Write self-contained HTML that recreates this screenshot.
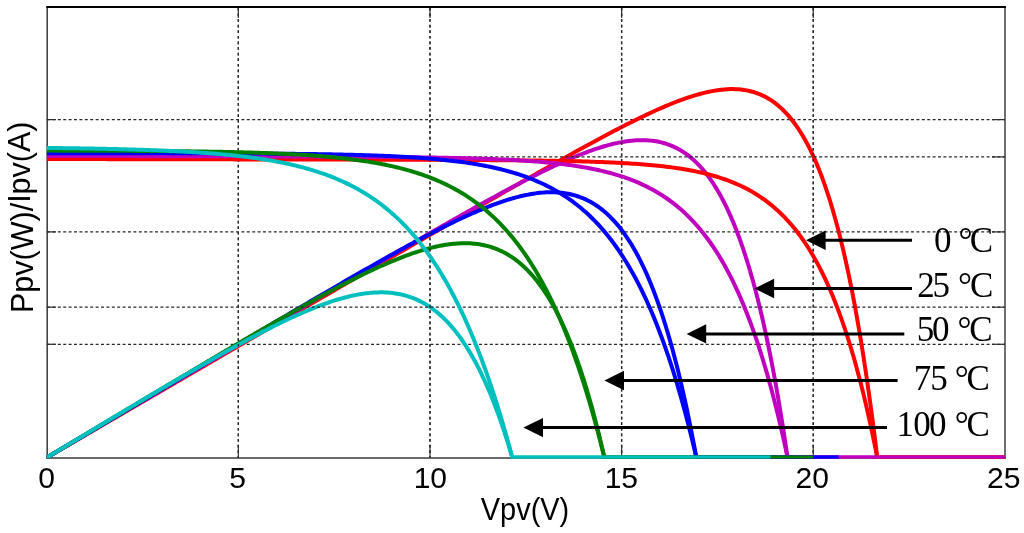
<!DOCTYPE html>
<html><head><meta charset="utf-8"><style>
html,body{margin:0;padding:0;background:#fff;overflow:hidden;}
svg{display:block;}
.sans{font-family:"Liberation Sans",Arial,sans-serif;font-size:30px;fill:#000;}
.serif{font-family:"Liberation Serif","Times New Roman",serif;font-size:35px;fill:#000;}
</style></head><body>
<svg width="1024" height="533" viewBox="0 0 1024 533">
<defs><clipPath id="ax"><rect x="46.6" y="7.0" width="958.8" height="451.5"/></clipPath></defs>
<rect width="1024" height="533" fill="#fff"/>
<g fill="none">
<line x1="47.2" y1="7.0" x2="47.2" y2="458.8" stroke="#444" stroke-width="1.6"/>
<line x1="1005" y1="7.0" x2="1005" y2="458.8" stroke="#707070" stroke-width="2"/>
<line x1="46.4" y1="458" x2="1006" y2="458" stroke="#3a3a3a" stroke-width="1.6"/>
</g>
<g stroke="#333" stroke-width="1.2" fill="none">
<line x1="238.34" y1="457.6" x2="238.34" y2="445.0"/>
<line x1="238.34" y1="7.0" x2="238.34" y2="18.0"/>
<line x1="429.98" y1="457.6" x2="429.98" y2="445.0"/>
<line x1="429.98" y1="7.0" x2="429.98" y2="18.0"/>
<line x1="621.62" y1="457.6" x2="621.62" y2="445.0"/>
<line x1="621.62" y1="7.0" x2="621.62" y2="18.0"/>
<line x1="813.26" y1="457.6" x2="813.26" y2="445.0"/>
<line x1="813.26" y1="7.0" x2="813.26" y2="18.0"/>
<line x1="46.7" y1="119.6" x2="56.0" y2="119.6"/>
<line x1="1004.9" y1="119.6" x2="991.9" y2="119.6"/>
<line x1="46.7" y1="231.9" x2="56.0" y2="231.9"/>
<line x1="1004.9" y1="231.9" x2="991.9" y2="231.9"/>
<line x1="46.7" y1="344.3" x2="56.0" y2="344.3"/>
<line x1="1004.9" y1="344.3" x2="991.9" y2="344.3"/>
<line x1="46.7" y1="156.9" x2="56.0" y2="156.9"/>
<line x1="1004.9" y1="156.9" x2="991.9" y2="156.9"/>
<line x1="46.7" y1="307.2" x2="56.0" y2="307.2"/>
<line x1="1004.9" y1="307.2" x2="991.9" y2="307.2"/>
</g>
<g stroke="#2a2a2a" stroke-width="1.3" fill="none">
<line x1="238.34" y1="7.9" x2="238.34" y2="457.6" stroke-dasharray="2.7 2.9"/>
<line x1="429.98" y1="7.9" x2="429.98" y2="457.6" stroke-dasharray="2.7 2.9"/>
<line x1="621.62" y1="7.9" x2="621.62" y2="457.6" stroke-dasharray="2.7 2.9"/>
<line x1="813.26" y1="7.9" x2="813.26" y2="457.6" stroke-dasharray="2.7 2.9"/>
<line x1="47.0" y1="119.6" x2="1004.9" y2="119.6" stroke-dasharray="3 2.4"/>
<line x1="47.0" y1="231.9" x2="1004.9" y2="231.9" stroke-dasharray="3 2.4"/>
<line x1="47.0" y1="344.3" x2="1004.9" y2="344.3" stroke-dasharray="3 2.4"/>
</g>
<g fill="none" stroke-width="4" stroke-linejoin="round" clip-path="url(#ax)">
<polyline points="46.70,457.60 49.48,455.98 52.26,454.36 55.03,452.74 57.81,451.13 60.59,449.51 63.37,447.89 66.14,446.27 68.92,444.65 71.70,443.03 74.48,441.42 77.26,439.80 80.03,438.18 82.81,436.56 85.59,434.94 88.37,433.33 91.15,431.71 93.92,430.09 96.70,428.47 99.48,426.86 102.26,425.24 105.03,423.62 107.81,422.00 110.59,420.39 113.37,418.77 116.15,417.15 118.92,415.53 121.70,413.92 124.48,412.30 127.26,410.68 130.03,409.07 132.81,407.45 135.59,405.83 138.37,404.21 141.15,402.60 143.92,400.98 146.70,399.36 149.48,397.75 152.26,396.13 155.03,394.52 157.81,392.90 160.59,391.28 163.37,389.67 166.15,388.05 168.92,386.43 171.70,384.82 174.48,383.20 177.26,381.59 180.04,379.97 182.81,378.35 185.59,376.74 188.37,375.12 191.15,373.51 193.92,371.89 196.70,370.28 199.48,368.66 202.26,367.04 205.04,365.43 207.81,363.81 210.59,362.20 213.37,360.58 216.15,358.97 218.92,357.35 221.70,355.74 224.48,354.12 227.26,352.51 230.04,350.89 232.81,349.28 235.59,347.66 238.37,346.05 241.15,344.44 243.93,342.82 246.70,341.21 249.48,339.59 252.26,337.98 255.04,336.36 257.81,334.75 260.59,333.13 263.37,331.52 266.15,329.91 268.93,328.29 271.70,326.68 274.48,325.07 277.26,323.45 280.04,321.84 282.81,320.22 285.59,318.61 288.37,317.00 291.15,315.38 293.93,313.77 296.70,312.16 299.48,310.54 302.26,308.93 305.04,307.32 307.81,305.71 310.59,304.09 313.37,302.48 316.15,300.87 318.93,299.25 321.70,297.64 324.48,296.03 327.26,294.42 330.04,292.80 332.82,291.19 335.59,289.58 338.37,287.97 341.15,286.36 343.93,284.74 346.70,283.13 349.48,281.52 352.26,279.91 355.04,278.30 357.82,276.69 360.59,275.07 363.37,273.46 366.15,271.85 368.93,270.24 371.70,268.63 374.48,267.02 377.26,265.41 380.04,263.80 382.82,262.19 385.59,260.58 388.37,258.97 391.15,257.36 393.93,255.75 396.71,254.14 399.48,252.53 402.26,250.92 405.04,249.31 407.82,247.70 410.59,246.09 413.37,244.49 416.15,242.88 418.93,241.27 421.71,239.66 424.48,238.05 427.26,236.45 430.04,234.84 432.82,233.23 435.59,231.63 438.37,230.02 441.15,228.41 443.93,226.81 446.71,225.20 449.48,223.60 452.26,221.99 455.04,220.39 457.82,218.79 460.59,217.18 463.37,215.58 466.15,213.98 468.93,212.37 471.71,210.77 474.48,209.17 477.26,207.57 480.04,205.97 482.82,204.37 485.60,202.78 488.37,201.18 491.15,199.58 493.93,197.98 496.71,196.39 499.48,194.80 502.26,193.20 505.04,191.61 507.82,190.02 510.60,188.43 513.37,186.84 516.15,185.25 518.93,183.66 521.71,182.08 524.48,180.49 527.26,178.91 530.04,177.33 532.82,175.75 535.60,174.17 538.37,172.60 541.15,171.02 543.93,169.45 546.71,167.88 549.49,166.31 552.26,164.75 555.04,163.19 557.82,161.63 560.60,160.07 563.37,158.52 566.15,156.97 568.93,155.42 571.71,153.88 574.49,152.34 577.26,150.80 580.04,149.27 582.82,147.74 585.60,146.22 588.37,144.70 591.15,143.19 593.93,141.68 596.71,140.18 599.49,138.68 602.26,137.19 605.04,135.71 607.82,134.24 610.60,132.77 613.37,131.31 616.15,129.86 618.93,128.42 621.71,126.99 624.49,125.56 627.26,124.15 630.04,122.75 632.82,121.36 635.60,119.99 638.38,118.62 641.15,117.28 643.93,115.94 646.71,114.62 649.49,113.32 652.26,112.04 655.04,110.77 657.82,109.52 660.60,108.30 663.38,107.09 666.15,105.91 668.93,104.75 671.71,103.62 674.49,102.51 677.26,101.43 680.04,100.39 682.82,99.37 685.60,98.39 688.38,97.44 691.15,96.53 693.93,95.66 696.71,94.83 699.49,94.04 702.27,93.31 705.04,92.62 707.82,91.98 710.60,91.39 713.38,90.87 716.15,90.40 718.93,90.00 721.71,89.66 724.49,89.40 727.27,89.21 730.04,89.11 732.82,89.08 735.60,89.15 738.38,89.31 741.15,89.56 743.93,89.92 746.71,90.39 749.49,90.98 752.27,91.69 755.04,92.53 757.82,93.50 760.60,94.61 763.38,95.88 766.16,97.31 768.93,98.90 771.71,100.67 774.49,102.63 777.27,104.78 780.04,107.15 782.82,109.73 785.60,112.54 788.38,115.59 791.16,118.90 793.93,122.47 796.71,126.33 799.49,130.49 802.27,134.96 805.04,139.76 807.82,144.91 810.60,150.42 813.38,156.32 816.16,162.62 818.93,169.35 821.71,176.52 824.49,184.17 827.27,192.31 830.04,200.96 832.82,210.16 835.60,219.94 838.38,230.31 841.16,241.31 843.93,252.98 846.71,265.33 849.49,278.42 852.27,292.26 855.05,306.90 857.82,322.38 860.60,338.74 863.38,356.00 866.16,374.23 868.93,393.46 871.71,413.73 874.49,435.09 877.27,457.60 1004.90,457.60" stroke="#FF0000"/>
<polyline points="46.70,457.60 49.18,456.14 51.66,454.68 54.13,453.22 56.61,451.76 59.09,450.31 61.57,448.85 64.05,447.39 66.52,445.93 69.00,444.47 71.48,443.01 73.96,441.56 76.43,440.10 78.91,438.64 81.39,437.18 83.87,435.72 86.35,434.26 88.82,432.81 91.30,431.35 93.78,429.89 96.26,428.43 98.74,426.98 101.21,425.52 103.69,424.06 106.17,422.60 108.65,421.14 111.12,419.69 113.60,418.23 116.08,416.77 118.56,415.32 121.04,413.86 123.51,412.40 125.99,410.94 128.47,409.49 130.95,408.03 133.43,406.57 135.90,405.12 138.38,403.66 140.86,402.20 143.34,400.75 145.81,399.29 148.29,397.83 150.77,396.38 153.25,394.92 155.73,393.46 158.20,392.01 160.68,390.55 163.16,389.09 165.64,387.64 168.12,386.18 170.59,384.72 173.07,383.27 175.55,381.81 178.03,380.36 180.50,378.90 182.98,377.45 185.46,375.99 187.94,374.53 190.42,373.08 192.89,371.62 195.37,370.17 197.85,368.71 200.33,367.26 202.81,365.80 205.28,364.35 207.76,362.89 210.24,361.44 212.72,359.98 215.19,358.53 217.67,357.07 220.15,355.62 222.63,354.16 225.11,352.71 227.58,351.25 230.06,349.80 232.54,348.34 235.02,346.89 237.50,345.44 239.97,343.98 242.45,342.53 244.93,341.07 247.41,339.62 249.88,338.17 252.36,336.71 254.84,335.26 257.32,333.80 259.80,332.35 262.27,330.90 264.75,329.45 267.23,327.99 269.71,326.54 272.19,325.09 274.66,323.63 277.14,322.18 279.62,320.73 282.10,319.28 284.57,317.82 287.05,316.37 289.53,314.92 292.01,313.47 294.49,312.02 296.96,310.56 299.44,309.11 301.92,307.66 304.40,306.21 306.88,304.76 309.35,303.31 311.83,301.86 314.31,300.41 316.79,298.96 319.26,297.51 321.74,296.06 324.22,294.61 326.70,293.16 329.18,291.71 331.65,290.26 334.13,288.81 336.61,287.36 339.09,285.92 341.57,284.47 344.04,283.02 346.52,281.57 349.00,280.13 351.48,278.68 353.95,277.23 356.43,275.79 358.91,274.34 361.39,272.90 363.87,271.45 366.34,270.01 368.82,268.57 371.30,267.12 373.78,265.68 376.26,264.24 378.73,262.79 381.21,261.35 383.69,259.91 386.17,258.47 388.64,257.03 391.12,255.59 393.60,254.16 396.08,252.72 398.56,251.28 401.03,249.84 403.51,248.41 405.99,246.98 408.47,245.54 410.95,244.11 413.42,242.68 415.90,241.25 418.38,239.82 420.86,238.39 423.33,236.96 425.81,235.53 428.29,234.11 430.77,232.69 433.25,231.26 435.72,229.84 438.20,228.42 440.68,227.01 443.16,225.59 445.64,224.17 448.11,222.76 450.59,221.35 453.07,219.94 455.55,218.53 458.02,217.13 460.50,215.73 462.98,214.33 465.46,212.93 467.94,211.53 470.41,210.14 472.89,208.75 475.37,207.37 477.85,205.98 480.33,204.60 482.80,203.23 485.28,201.85 487.76,200.48 490.24,199.12 492.71,197.76 495.19,196.40 497.67,195.04 500.15,193.70 502.63,192.35 505.10,191.01 507.58,189.68 510.06,188.35 512.54,187.03 515.02,185.72 517.49,184.41 519.97,183.11 522.45,181.81 524.93,180.52 527.40,179.24 529.88,177.97 532.36,176.71 534.84,175.45 537.32,174.21 539.79,172.97 542.27,171.75 544.75,170.53 547.23,169.33 549.71,168.14 552.18,166.96 554.66,165.79 557.14,164.64 559.62,163.50 562.09,162.37 564.57,161.26 567.05,160.17 569.53,159.09 572.01,158.03 574.48,156.99 576.96,155.97 579.44,154.97 581.92,153.99 584.40,153.03 586.87,152.09 589.35,151.18 591.83,150.30 594.31,149.44 596.78,148.61 599.26,147.80 601.74,147.03 604.22,146.29 606.70,145.58 609.17,144.91 611.65,144.27 614.13,143.67 616.61,143.11 619.09,142.59 621.56,142.12 624.04,141.69 626.52,141.31 629.00,140.98 631.48,140.70 633.95,140.47 636.43,140.30 638.91,140.19 641.39,140.14 643.86,140.16 646.34,140.25 648.82,140.40 651.30,140.63 653.78,140.94 656.25,141.33 658.73,141.80 661.21,142.37 663.69,143.02 666.17,143.77 668.64,144.62 671.12,145.58 673.60,146.65 676.08,147.83 678.55,149.13 681.03,150.56 683.51,152.12 685.99,153.82 688.47,155.66 690.94,157.65 693.42,159.79 695.90,162.10 698.38,164.58 700.86,167.24 703.33,170.08 705.81,173.11 708.29,176.34 710.77,179.79 713.24,183.45 715.72,187.35 718.20,191.48 720.68,195.86 723.16,200.49 725.63,205.40 728.11,210.59 730.59,216.08 733.07,221.86 735.55,227.97 738.02,234.41 740.50,241.19 742.98,248.33 745.46,255.85 747.93,263.75 750.41,272.06 752.89,280.79 755.37,289.96 757.85,299.58 760.32,309.67 762.80,320.25 765.28,331.35 767.76,342.97 770.24,355.15 772.71,367.89 775.19,381.23 777.67,395.18 780.15,409.77 782.62,425.02 785.10,440.96 787.58,457.60 1004.90,457.60" stroke="#BF00BF"/>
<polyline points="46.70,457.60 48.87,456.31 51.05,455.02 53.22,453.73 55.39,452.44 57.56,451.15 59.74,449.86 61.91,448.56 64.08,447.27 66.25,445.98 68.43,444.69 70.60,443.40 72.77,442.11 74.95,440.82 77.12,439.53 79.29,438.24 81.46,436.95 83.64,435.66 85.81,434.37 87.98,433.08 90.16,431.79 92.33,430.50 94.50,429.20 96.67,427.91 98.85,426.62 101.02,425.33 103.19,424.04 105.36,422.75 107.54,421.46 109.71,420.17 111.88,418.88 114.06,417.59 116.23,416.30 118.40,415.01 120.57,413.72 122.75,412.43 124.92,411.14 127.09,409.85 129.27,408.56 131.44,407.27 133.61,405.98 135.78,404.69 137.96,403.40 140.13,402.11 142.30,400.82 144.47,399.53 146.65,398.24 148.82,396.95 150.99,395.66 153.17,394.37 155.34,393.08 157.51,391.79 159.68,390.50 161.86,389.21 164.03,387.92 166.20,386.63 168.38,385.34 170.55,384.05 172.72,382.76 174.89,381.47 177.07,380.18 179.24,378.89 181.41,377.60 183.58,376.31 185.76,375.02 187.93,373.73 190.10,372.44 192.28,371.15 194.45,369.87 196.62,368.58 198.79,367.29 200.97,366.00 203.14,364.71 205.31,363.42 207.49,362.13 209.66,360.85 211.83,359.56 214.00,358.27 216.18,356.98 218.35,355.69 220.52,354.41 222.69,353.12 224.87,351.83 227.04,350.55 229.21,349.26 231.39,347.97 233.56,346.68 235.73,345.40 237.90,344.11 240.08,342.83 242.25,341.54 244.42,340.25 246.60,338.97 248.77,337.68 250.94,336.40 253.11,335.11 255.29,333.83 257.46,332.55 259.63,331.26 261.80,329.98 263.98,328.70 266.15,327.41 268.32,326.13 270.50,324.85 272.67,323.57 274.84,322.28 277.01,321.00 279.19,319.72 281.36,318.44 283.53,317.16 285.71,315.88 287.88,314.60 290.05,313.32 292.22,312.05 294.40,310.77 296.57,309.49 298.74,308.22 300.91,306.94 303.09,305.67 305.26,304.39 307.43,303.12 309.61,301.84 311.78,300.57 313.95,299.30 316.12,298.03 318.30,296.76 320.47,295.49 322.64,294.22 324.82,292.95 326.99,291.69 329.16,290.42 331.33,289.16 333.51,287.90 335.68,286.63 337.85,285.37 340.02,284.11 342.20,282.85 344.37,281.60 346.54,280.34 348.72,279.09 350.89,277.83 353.06,276.58 355.23,275.33 357.41,274.08 359.58,272.84 361.75,271.59 363.93,270.35 366.10,269.11 368.27,267.87 370.44,266.63 372.62,265.40 374.79,264.16 376.96,262.93 379.13,261.71 381.31,260.48 383.48,259.26 385.65,258.04 387.83,256.82 390.00,255.61 392.17,254.39 394.34,253.19 396.52,251.98 398.69,250.78 400.86,249.58 403.04,248.39 405.21,247.20 407.38,246.01 409.55,244.83 411.73,243.65 413.90,242.48 416.07,241.31 418.24,240.14 420.42,238.98 422.59,237.83 424.76,236.68 426.94,235.54 429.11,234.40 431.28,233.27 433.45,232.14 435.63,231.02 437.80,229.91 439.97,228.80 442.14,227.70 444.32,226.61 446.49,225.53 448.66,224.46 450.84,223.39 453.01,222.33 455.18,221.28 457.35,220.24 459.53,219.21 461.70,218.19 463.87,217.19 466.05,216.19 468.22,215.20 470.39,214.22 472.56,213.26 474.74,212.31 476.91,211.37 479.08,210.45 481.25,209.54 483.43,208.65 485.60,207.77 487.77,206.90 489.95,206.05 492.12,205.22 494.29,204.41 496.46,203.62 498.64,202.84 500.81,202.08 502.98,201.35 505.16,200.63 507.33,199.94 509.50,199.27 511.67,198.63 513.85,198.00 516.02,197.41 518.19,196.84 520.36,196.30 522.54,195.78 524.71,195.30 526.88,194.84 529.06,194.42 531.23,194.03 533.40,193.68 535.57,193.36 537.75,193.07 539.92,192.83 542.09,192.62 544.27,192.45 546.44,192.33 548.61,192.25 550.78,192.22 552.96,192.23 555.13,192.29 557.30,192.40 559.47,192.57 561.65,192.79 563.82,193.06 565.99,193.40 568.17,193.79 570.34,194.25 572.51,194.77 574.68,195.36 576.86,196.01 579.03,196.74 581.20,197.55 583.38,198.43 585.55,199.39 587.72,200.44 589.89,201.57 592.07,202.79 594.24,204.10 596.41,205.51 598.58,207.01 600.76,208.62 602.93,210.33 605.10,212.16 607.28,214.09 609.45,216.14 611.62,218.32 613.79,220.62 615.97,223.04 618.14,225.61 620.31,228.31 622.49,231.15 624.66,234.14 626.83,237.29 629.00,240.59 631.18,244.06 633.35,247.69 635.52,251.50 637.69,255.50 639.87,259.67 642.04,264.04 644.21,268.61 646.39,273.39 648.56,278.37 650.73,283.58 652.90,289.01 655.08,294.67 657.25,300.57 659.42,306.72 661.60,313.13 663.77,319.80 665.94,326.75 668.11,333.97 670.29,341.48 672.46,349.29 674.63,357.41 676.80,365.85 678.98,374.60 681.15,383.70 683.32,393.14 685.50,402.93 687.67,413.09 689.84,423.63 692.01,434.55 694.19,445.87 696.36,457.60 838.56,457.60" stroke="#0000FF"/>
<polyline points="46.70,457.60 48.57,456.48 50.43,455.37 52.30,454.25 54.16,453.13 56.03,452.01 57.89,450.90 59.76,449.78 61.62,448.66 63.49,447.54 65.35,446.43 67.22,445.31 69.08,444.19 70.95,443.08 72.81,441.96 74.68,440.84 76.54,439.72 78.41,438.61 80.27,437.49 82.14,436.37 84.00,435.26 85.87,434.14 87.73,433.02 89.60,431.91 91.46,430.79 93.33,429.67 95.19,428.56 97.06,427.44 98.92,426.32 100.79,425.21 102.65,424.09 104.52,422.98 106.38,421.86 108.25,420.74 110.11,419.63 111.98,418.51 113.84,417.40 115.71,416.28 117.57,415.16 119.44,414.05 121.31,412.93 123.17,411.82 125.04,410.70 126.90,409.59 128.77,408.47 130.63,407.36 132.50,406.24 134.36,405.13 136.23,404.01 138.09,402.90 139.96,401.79 141.82,400.67 143.69,399.56 145.55,398.44 147.42,397.33 149.28,396.22 151.15,395.10 153.01,393.99 154.88,392.88 156.74,391.76 158.61,390.65 160.47,389.54 162.34,388.43 164.20,387.31 166.07,386.20 167.93,385.09 169.80,383.98 171.66,382.87 173.53,381.76 175.39,380.65 177.26,379.54 179.12,378.43 180.99,377.32 182.85,376.21 184.72,375.10 186.58,373.99 188.45,372.88 190.31,371.77 192.18,370.66 194.04,369.56 195.91,368.45 197.78,367.34 199.64,366.24 201.51,365.13 203.37,364.02 205.24,362.92 207.10,361.81 208.97,360.71 210.83,359.61 212.70,358.50 214.56,357.40 216.43,356.30 218.29,355.20 220.16,354.09 222.02,352.99 223.89,351.89 225.75,350.79 227.62,349.70 229.48,348.60 231.35,347.50 233.21,346.40 235.08,345.31 236.94,344.21 238.81,343.12 240.67,342.03 242.54,340.93 244.40,339.84 246.27,338.75 248.13,337.66 250.00,336.57 251.86,335.48 253.73,334.40 255.59,333.31 257.46,332.23 259.32,331.14 261.19,330.06 263.05,328.98 264.92,327.90 266.78,326.82 268.65,325.74 270.52,324.66 272.38,323.59 274.25,322.52 276.11,321.44 277.98,320.37 279.84,319.30 281.71,318.24 283.57,317.17 285.44,316.11 287.30,315.05 289.17,313.99 291.03,312.93 292.90,311.87 294.76,310.82 296.63,309.77 298.49,308.72 300.36,307.67 302.22,306.62 304.09,305.58 305.95,304.54 307.82,303.50 309.68,302.47 311.55,301.43 313.41,300.40 315.28,299.38 317.14,298.35 319.01,297.33 320.87,296.32 322.74,295.30 324.60,294.29 326.47,293.28 328.33,292.28 330.20,291.28 332.06,290.28 333.93,289.29 335.79,288.30 337.66,287.32 339.52,286.34 341.39,285.36 343.25,284.39 345.12,283.43 346.99,282.47 348.85,281.51 350.72,280.56 352.58,279.61 354.45,278.67 356.31,277.74 358.18,276.81 360.04,275.89 361.91,274.97 363.77,274.06 365.64,273.16 367.50,272.26 369.37,271.38 371.23,270.49 373.10,269.62 374.96,268.75 376.83,267.89 378.69,267.04 380.56,266.20 382.42,265.37 384.29,264.55 386.15,263.73 388.02,262.93 389.88,262.13 391.75,261.35 393.61,260.57 395.48,259.81 397.34,259.06 399.21,258.32 401.07,257.59 402.94,256.87 404.80,256.17 406.67,255.48 408.53,254.80 410.40,254.13 412.26,253.48 414.13,252.85 415.99,252.23 417.86,251.63 419.73,251.04 421.59,250.46 423.46,249.91 425.32,249.37 427.19,248.85 429.05,248.35 430.92,247.87 432.78,247.41 434.65,246.97 436.51,246.55 438.38,246.15 440.24,245.77 442.11,245.42 443.97,245.09 445.84,244.78 447.70,244.50 449.57,244.24 451.43,244.01 453.30,243.81 455.16,243.64 457.03,243.49 458.89,243.38 460.76,243.29 462.62,243.24 464.49,243.22 466.35,243.23 468.22,243.28 470.08,243.36 471.95,243.48 473.81,243.64 475.68,243.84 477.54,244.07 479.41,244.35 481.27,244.67 483.14,245.03 485.00,245.43 486.87,245.89 488.73,246.39 490.60,246.94 492.46,247.53 494.33,248.18 496.20,248.89 498.06,249.64 499.93,250.46 501.79,251.33 503.66,252.26 505.52,253.25 507.39,254.30 509.25,255.42 511.12,256.61 512.98,257.86 514.85,259.18 516.71,260.58 518.58,262.05 520.44,263.59 522.31,265.22 524.17,266.92 526.04,268.71 527.90,270.58 529.77,272.54 531.63,274.59 533.50,276.73 535.36,278.96 537.23,281.29 539.09,283.73 540.96,286.26 542.82,288.90 544.69,291.65 546.55,294.51 548.42,297.49 550.28,300.58 552.15,303.79 554.01,307.12 555.88,310.59 557.74,314.18 559.61,317.90 561.47,321.77 563.34,325.77 565.20,329.91 567.07,334.21 568.94,338.66 570.80,343.26 572.67,348.02 574.53,352.94 576.40,358.04 578.26,363.30 580.13,368.74 581.99,374.36 583.86,380.17 585.72,386.16 587.59,392.35 589.45,398.74 591.32,405.33 593.18,412.13 595.05,419.15 596.91,426.38 598.78,433.84 600.64,441.52 602.51,449.44 604.37,457.60 813.26,457.60" stroke="#008000"/>
<polyline points="46.70,457.60 48.26,456.66 49.81,455.72 51.37,454.78 52.93,453.84 54.49,452.90 56.04,451.96 57.60,451.01 59.16,450.07 60.71,449.13 62.27,448.19 63.83,447.25 65.39,446.32 66.94,445.38 68.50,444.44 70.06,443.50 71.62,442.56 73.17,441.62 74.73,440.68 76.29,439.74 77.84,438.80 79.40,437.86 80.96,436.93 82.52,435.99 84.07,435.05 85.63,434.11 87.19,433.18 88.74,432.24 90.30,431.30 91.86,430.37 93.42,429.43 94.97,428.49 96.53,427.56 98.09,426.62 99.65,425.69 101.20,424.75 102.76,423.82 104.32,422.88 105.87,421.95 107.43,421.01 108.99,420.08 110.55,419.14 112.10,418.21 113.66,417.28 115.22,416.34 116.77,415.41 118.33,414.48 119.89,413.55 121.45,412.62 123.00,411.68 124.56,410.75 126.12,409.82 127.68,408.89 129.23,407.96 130.79,407.03 132.35,406.11 133.90,405.18 135.46,404.25 137.02,403.32 138.58,402.39 140.13,401.47 141.69,400.54 143.25,399.62 144.80,398.69 146.36,397.77 147.92,396.84 149.48,395.92 151.03,394.99 152.59,394.07 154.15,393.15 155.71,392.23 157.26,391.31 158.82,390.39 160.38,389.47 161.93,388.55 163.49,387.63 165.05,386.71 166.61,385.80 168.16,384.88 169.72,383.96 171.28,383.05 172.83,382.14 174.39,381.22 175.95,380.31 177.51,379.40 179.06,378.49 180.62,377.58 182.18,376.67 183.74,375.76 185.29,374.86 186.85,373.95 188.41,373.05 189.96,372.14 191.52,371.24 193.08,370.34 194.64,369.44 196.19,368.54 197.75,367.64 199.31,366.75 200.86,365.85 202.42,364.96 203.98,364.06 205.54,363.17 207.09,362.28 208.65,361.39 210.21,360.51 211.77,359.62 213.32,358.74 214.88,357.85 216.44,356.97 217.99,356.10 219.55,355.22 221.11,354.34 222.67,353.47 224.22,352.60 225.78,351.73 227.34,350.86 228.89,349.99 230.45,349.13 232.01,348.27 233.57,347.41 235.12,346.55 236.68,345.69 238.24,344.84 239.80,343.99 241.35,343.14 242.91,342.30 244.47,341.46 246.02,340.62 247.58,339.78 249.14,338.94 250.70,338.11 252.25,337.28 253.81,336.46 255.37,335.63 256.92,334.82 258.48,334.00 260.04,333.19 261.60,332.38 263.15,331.57 264.71,330.77 266.27,329.97 267.83,329.18 269.38,328.39 270.94,327.60 272.50,326.82 274.05,326.04 275.61,325.26 277.17,324.50 278.73,323.73 280.28,322.97 281.84,322.21 283.40,321.46 284.95,320.72 286.51,319.98 288.07,319.24 289.63,318.51 291.18,317.79 292.74,317.07 294.30,316.36 295.86,315.65 297.41,314.95 298.97,314.26 300.53,313.57 302.08,312.89 303.64,312.21 305.20,311.55 306.76,310.89 308.31,310.23 309.87,309.59 311.43,308.95 312.98,308.32 314.54,307.70 316.10,307.09 317.66,306.48 319.21,305.89 320.77,305.30 322.33,304.72 323.89,304.15 325.44,303.59 327.00,303.04 328.56,302.51 330.11,301.98 331.67,301.46 333.23,300.95 334.79,300.46 336.34,299.97 337.90,299.50 339.46,299.04 341.01,298.59 342.57,298.15 344.13,297.73 345.69,297.32 347.24,296.92 348.80,296.54 350.36,296.17 351.91,295.81 353.47,295.47 355.03,295.15 356.59,294.84 358.14,294.55 359.70,294.27 361.26,294.01 362.82,293.77 364.37,293.54 365.93,293.34 367.49,293.15 369.04,292.98 370.60,292.83 372.16,292.69 373.72,292.58 375.27,292.49 376.83,292.42 378.39,292.38 379.94,292.35 381.50,292.35 383.06,292.37 384.62,292.41 386.17,292.48 387.73,292.58 389.29,292.69 390.85,292.84 392.40,293.01 393.96,293.21 395.52,293.43 397.07,293.69 398.63,293.97 400.19,294.29 401.75,294.63 403.30,295.01 404.86,295.41 406.42,295.85 407.97,296.33 409.53,296.83 411.09,297.38 412.65,297.95 414.20,298.57 415.76,299.22 417.32,299.91 418.88,300.64 420.43,301.41 421.99,302.21 423.55,303.06 425.10,303.96 426.66,304.89 428.22,305.87 429.78,306.90 431.33,307.97 432.89,309.09 434.45,310.25 436.00,311.47 437.56,312.73 439.12,314.05 440.68,315.42 442.23,316.84 443.79,318.32 445.35,319.85 446.91,321.44 448.46,323.09 450.02,324.80 451.58,326.57 453.13,328.39 454.69,330.29 456.25,332.24 457.81,334.26 459.36,336.35 460.92,338.51 462.48,340.73 464.03,343.03 465.59,345.40 467.15,347.84 468.71,350.36 470.26,352.95 471.82,355.62 473.38,358.37 474.94,361.20 476.49,364.11 478.05,367.11 479.61,370.19 481.16,373.36 482.72,376.62 484.28,379.97 485.84,383.41 487.39,386.94 488.95,390.57 490.51,394.29 492.06,398.12 493.62,402.04 495.18,406.07 496.74,410.20 498.29,414.43 499.85,418.78 501.41,423.23 502.97,427.79 504.52,432.47 506.08,437.26 507.64,442.16 509.19,447.19 510.75,452.33 512.31,457.60 770.33,457.60" stroke="#00BFBF"/>
</g>
<g stroke="#2a2a2a" stroke-width="1.3" fill="none">
<line x1="238.34" y1="7.9" x2="238.34" y2="457.6" stroke-dasharray="2.7 2.9"/>
<line x1="429.98" y1="7.9" x2="429.98" y2="457.6" stroke-dasharray="2.7 2.9"/>
<line x1="621.62" y1="7.9" x2="621.62" y2="457.6" stroke-dasharray="2.7 2.9"/>
<line x1="813.26" y1="7.9" x2="813.26" y2="457.6" stroke-dasharray="2.7 2.9"/>
<line x1="47.0" y1="156.9" x2="1004.9" y2="156.9" stroke-dasharray="3 2.4"/>
<line x1="47.0" y1="307.2" x2="1004.9" y2="307.2" stroke-dasharray="3 2.4"/>
</g>
<g fill="none" stroke-width="4" stroke-linejoin="round" clip-path="url(#ax)">
<polyline points="46.70,159.01 49.48,159.01 52.26,159.02 55.03,159.02 57.81,159.03 60.59,159.03 63.37,159.04 66.14,159.05 68.92,159.05 71.70,159.06 74.48,159.06 77.26,159.07 80.03,159.07 82.81,159.08 85.59,159.08 88.37,159.09 91.15,159.09 93.92,159.10 96.70,159.10 99.48,159.11 102.26,159.12 105.03,159.12 107.81,159.13 110.59,159.13 113.37,159.14 116.15,159.14 118.92,159.15 121.70,159.15 124.48,159.16 127.26,159.16 130.03,159.17 132.81,159.18 135.59,159.18 138.37,159.19 141.15,159.19 143.92,159.20 146.70,159.20 149.48,159.21 152.26,159.21 155.03,159.22 157.81,159.22 160.59,159.23 163.37,159.24 166.15,159.24 168.92,159.25 171.70,159.25 174.48,159.26 177.26,159.26 180.04,159.27 182.81,159.27 185.59,159.28 188.37,159.28 191.15,159.29 193.92,159.30 196.70,159.30 199.48,159.31 202.26,159.31 205.04,159.32 207.81,159.32 210.59,159.33 213.37,159.33 216.15,159.34 218.92,159.34 221.70,159.35 224.48,159.36 227.26,159.36 230.04,159.37 232.81,159.37 235.59,159.38 238.37,159.38 241.15,159.39 243.93,159.39 246.70,159.40 249.48,159.41 252.26,159.41 255.04,159.42 257.81,159.42 260.59,159.43 263.37,159.43 266.15,159.44 268.93,159.44 271.70,159.45 274.48,159.46 277.26,159.46 280.04,159.47 282.81,159.47 285.59,159.48 288.37,159.48 291.15,159.49 293.93,159.50 296.70,159.50 299.48,159.51 302.26,159.51 305.04,159.52 307.81,159.52 310.59,159.53 313.37,159.54 316.15,159.54 318.93,159.55 321.70,159.55 324.48,159.56 327.26,159.57 330.04,159.57 332.82,159.58 335.59,159.58 338.37,159.59 341.15,159.60 343.93,159.60 346.70,159.61 349.48,159.62 352.26,159.62 355.04,159.63 357.82,159.64 360.59,159.64 363.37,159.65 366.15,159.66 368.93,159.66 371.70,159.67 374.48,159.68 377.26,159.68 380.04,159.69 382.82,159.70 385.59,159.70 388.37,159.71 391.15,159.72 393.93,159.73 396.71,159.73 399.48,159.74 402.26,159.75 405.04,159.76 407.82,159.77 410.59,159.77 413.37,159.78 416.15,159.79 418.93,159.80 421.71,159.81 424.48,159.82 427.26,159.83 430.04,159.84 432.82,159.85 435.59,159.86 438.37,159.87 441.15,159.88 443.93,159.89 446.71,159.90 449.48,159.91 452.26,159.92 455.04,159.94 457.82,159.95 460.59,159.96 463.37,159.97 466.15,159.99 468.93,160.00 471.71,160.01 474.48,160.03 477.26,160.05 480.04,160.06 482.82,160.08 485.60,160.09 488.37,160.11 491.15,160.13 493.93,160.15 496.71,160.17 499.48,160.19 502.26,160.21 505.04,160.23 507.82,160.26 510.60,160.28 513.37,160.30 516.15,160.33 518.93,160.36 521.71,160.38 524.48,160.41 527.26,160.44 530.04,160.48 532.82,160.51 535.60,160.54 538.37,160.58 541.15,160.62 543.93,160.66 546.71,160.70 549.49,160.74 552.26,160.79 555.04,160.83 557.82,160.88 560.60,160.93 563.37,160.99 566.15,161.04 568.93,161.10 571.71,161.17 574.49,161.23 577.26,161.30 580.04,161.37 582.82,161.44 585.60,161.52 588.37,161.61 591.15,161.69 593.93,161.78 596.71,161.88 599.49,161.98 602.26,162.08 605.04,162.19 607.82,162.31 610.60,162.43 613.37,162.56 616.15,162.69 618.93,162.83 621.71,162.98 624.49,163.14 627.26,163.30 630.04,163.47 632.82,163.65 635.60,163.84 638.38,164.04 641.15,164.25 643.93,164.47 646.71,164.70 649.49,164.94 652.26,165.20 655.04,165.46 657.82,165.75 660.60,166.04 663.38,166.36 666.15,166.68 668.93,167.03 671.71,167.39 674.49,167.77 677.26,168.17 680.04,168.60 682.82,169.04 685.60,169.51 688.38,170.00 691.15,170.51 693.93,171.06 696.71,171.63 699.49,172.23 702.27,172.86 705.04,173.52 707.82,174.22 710.60,174.96 713.38,175.73 716.15,176.54 718.93,177.40 721.71,178.30 724.49,179.24 727.27,180.24 730.04,181.28 732.82,182.39 735.60,183.54 738.38,184.76 741.15,186.04 743.93,187.39 746.71,188.81 749.49,190.30 752.27,191.86 755.04,193.51 757.82,195.24 760.60,197.06 763.38,198.98 766.16,200.99 768.93,203.11 771.71,205.34 774.49,207.68 777.27,210.14 780.04,212.73 782.82,215.45 785.60,218.31 788.38,221.31 791.16,224.47 793.93,227.79 796.71,231.28 799.49,234.94 802.27,238.79 805.04,242.84 807.82,247.09 810.60,251.55 813.38,256.24 816.16,261.16 818.93,266.33 821.71,271.76 824.49,277.46 827.27,283.45 830.04,289.73 832.82,296.32 835.60,303.23 838.38,310.49 841.16,318.10 843.93,326.08 846.71,334.45 849.49,343.23 852.27,352.43 855.05,362.07 857.82,372.18 860.60,382.77 863.38,393.86 866.16,405.47 868.93,417.63 871.71,430.35 874.49,443.67 877.27,457.60 1004.90,457.60" stroke="#FF0000"/>
<polyline points="46.70,155.91 49.18,155.92 51.66,155.92 54.13,155.93 56.61,155.93 59.09,155.94 61.57,155.94 64.05,155.95 66.52,155.95 69.00,155.96 71.48,155.97 73.96,155.97 76.43,155.98 78.91,155.98 81.39,155.99 83.87,155.99 86.35,156.00 88.82,156.01 91.30,156.01 93.78,156.02 96.26,156.02 98.74,156.03 101.21,156.03 103.69,156.04 106.17,156.05 108.65,156.05 111.12,156.06 113.60,156.06 116.08,156.07 118.56,156.07 121.04,156.08 123.51,156.09 125.99,156.09 128.47,156.10 130.95,156.10 133.43,156.11 135.90,156.11 138.38,156.12 140.86,156.13 143.34,156.13 145.81,156.14 148.29,156.14 150.77,156.15 153.25,156.16 155.73,156.16 158.20,156.17 160.68,156.17 163.16,156.18 165.64,156.18 168.12,156.19 170.59,156.20 173.07,156.20 175.55,156.21 178.03,156.21 180.50,156.22 182.98,156.23 185.46,156.23 187.94,156.24 190.42,156.25 192.89,156.25 195.37,156.26 197.85,156.26 200.33,156.27 202.81,156.28 205.28,156.28 207.76,156.29 210.24,156.29 212.72,156.30 215.19,156.31 217.67,156.31 220.15,156.32 222.63,156.33 225.11,156.33 227.58,156.34 230.06,156.35 232.54,156.35 235.02,156.36 237.50,156.37 239.97,156.37 242.45,156.38 244.93,156.39 247.41,156.39 249.88,156.40 252.36,156.41 254.84,156.42 257.32,156.42 259.80,156.43 262.27,156.44 264.75,156.44 267.23,156.45 269.71,156.46 272.19,156.47 274.66,156.48 277.14,156.48 279.62,156.49 282.10,156.50 284.57,156.51 287.05,156.52 289.53,156.52 292.01,156.53 294.49,156.54 296.96,156.55 299.44,156.56 301.92,156.57 304.40,156.58 306.88,156.59 309.35,156.60 311.83,156.61 314.31,156.62 316.79,156.63 319.26,156.64 321.74,156.65 324.22,156.66 326.70,156.67 329.18,156.68 331.65,156.69 334.13,156.70 336.61,156.71 339.09,156.73 341.57,156.74 344.04,156.75 346.52,156.76 349.00,156.78 351.48,156.79 353.95,156.81 356.43,156.82 358.91,156.84 361.39,156.85 363.87,156.87 366.34,156.88 368.82,156.90 371.30,156.92 373.78,156.93 376.26,156.95 378.73,156.97 381.21,156.99 383.69,157.01 386.17,157.03 388.64,157.05 391.12,157.07 393.60,157.09 396.08,157.12 398.56,157.14 401.03,157.16 403.51,157.19 405.99,157.21 408.47,157.24 410.95,157.27 413.42,157.30 415.90,157.33 418.38,157.36 420.86,157.39 423.33,157.42 425.81,157.46 428.29,157.49 430.77,157.53 433.25,157.57 435.72,157.61 438.20,157.65 440.68,157.69 443.16,157.73 445.64,157.78 448.11,157.83 450.59,157.88 453.07,157.93 455.55,157.98 458.02,158.04 460.50,158.09 462.98,158.15 465.46,158.21 467.94,158.28 470.41,158.34 472.89,158.41 475.37,158.49 477.85,158.56 480.33,158.64 482.80,158.72 485.28,158.80 487.76,158.89 490.24,158.98 492.71,159.08 495.19,159.17 497.67,159.28 500.15,159.38 502.63,159.49 505.10,159.61 507.58,159.73 510.06,159.86 512.54,159.99 515.02,160.12 517.49,160.26 519.97,160.41 522.45,160.56 524.93,160.72 527.40,160.89 529.88,161.06 532.36,161.24 534.84,161.43 537.32,161.62 539.79,161.83 542.27,162.04 544.75,162.26 547.23,162.49 549.71,162.73 552.18,162.98 554.66,163.24 557.14,163.51 559.62,163.79 562.09,164.08 564.57,164.39 567.05,164.71 569.53,165.04 572.01,165.39 574.48,165.75 576.96,166.13 579.44,166.52 581.92,166.93 584.40,167.35 586.87,167.80 589.35,168.26 591.83,168.74 594.31,169.25 596.78,169.77 599.26,170.32 601.74,170.89 604.22,171.48 606.70,172.10 609.17,172.74 611.65,173.41 614.13,174.11 616.61,174.84 619.09,175.60 621.56,176.40 624.04,177.22 626.52,178.08 629.00,178.98 631.48,179.91 633.95,180.89 636.43,181.91 638.91,182.96 641.39,184.07 643.86,185.22 646.34,186.42 648.82,187.66 651.30,188.97 653.78,190.32 656.25,191.74 658.73,193.21 661.21,194.74 663.69,196.34 666.17,198.01 668.64,199.74 671.12,201.55 673.60,203.44 676.08,205.40 678.55,207.45 681.03,209.58 683.51,211.80 685.99,214.11 688.47,216.52 690.94,219.03 693.42,221.64 695.90,224.37 698.38,227.20 700.86,230.15 703.33,233.23 705.81,236.43 708.29,239.76 710.77,243.24 713.24,246.85 715.72,250.61 718.20,254.53 720.68,258.60 723.16,262.85 725.63,267.26 728.11,271.86 730.59,276.64 733.07,281.61 735.55,286.79 738.02,292.17 740.50,297.77 742.98,303.60 745.46,309.65 747.93,315.95 750.41,322.50 752.89,329.31 755.37,336.38 757.85,343.74 760.32,351.38 762.80,359.32 765.28,367.57 767.76,376.14 770.24,385.04 772.71,394.29 775.19,403.88 777.67,413.85 780.15,424.19 782.62,434.92 785.10,446.05 787.58,457.60 1004.90,457.60" stroke="#BF00BF"/>
<polyline points="46.70,153.20 48.87,153.20 51.05,153.20 53.22,153.20 55.39,153.20 57.56,153.20 59.74,153.20 61.91,153.21 64.08,153.21 66.25,153.21 68.43,153.21 70.60,153.21 72.77,153.21 74.95,153.21 77.12,153.21 79.29,153.21 81.46,153.21 83.64,153.21 85.81,153.21 87.98,153.21 90.16,153.22 92.33,153.22 94.50,153.22 96.67,153.22 98.85,153.22 101.02,153.22 103.19,153.22 105.36,153.22 107.54,153.22 109.71,153.23 111.88,153.23 114.06,153.23 116.23,153.23 118.40,153.23 120.57,153.23 122.75,153.23 124.92,153.24 127.09,153.24 129.27,153.24 131.44,153.24 133.61,153.24 135.78,153.24 137.96,153.25 140.13,153.25 142.30,153.25 144.47,153.25 146.65,153.25 148.82,153.26 150.99,153.26 153.17,153.26 155.34,153.26 157.51,153.27 159.68,153.27 161.86,153.27 164.03,153.28 166.20,153.28 168.38,153.28 170.55,153.29 172.72,153.29 174.89,153.29 177.07,153.30 179.24,153.30 181.41,153.30 183.58,153.31 185.76,153.31 187.93,153.32 190.10,153.32 192.28,153.32 194.45,153.33 196.62,153.33 198.79,153.34 200.97,153.34 203.14,153.35 205.31,153.36 207.49,153.36 209.66,153.37 211.83,153.37 214.00,153.38 216.18,153.39 218.35,153.39 220.52,153.40 222.69,153.41 224.87,153.41 227.04,153.42 229.21,153.43 231.39,153.44 233.56,153.45 235.73,153.46 237.90,153.47 240.08,153.47 242.25,153.48 244.42,153.49 246.60,153.51 248.77,153.52 250.94,153.53 253.11,153.54 255.29,153.55 257.46,153.56 259.63,153.58 261.80,153.59 263.98,153.60 266.15,153.62 268.32,153.63 270.50,153.65 272.67,153.66 274.84,153.68 277.01,153.70 279.19,153.71 281.36,153.73 283.53,153.75 285.71,153.77 287.88,153.79 290.05,153.81 292.22,153.83 294.40,153.85 296.57,153.88 298.74,153.90 300.91,153.92 303.09,153.95 305.26,153.98 307.43,154.00 309.61,154.03 311.78,154.06 313.95,154.09 316.12,154.12 318.30,154.15 320.47,154.18 322.64,154.22 324.82,154.25 326.99,154.29 329.16,154.33 331.33,154.37 333.51,154.41 335.68,154.45 337.85,154.49 340.02,154.54 342.20,154.58 344.37,154.63 346.54,154.68 348.72,154.73 350.89,154.78 353.06,154.84 355.23,154.89 357.41,154.95 359.58,155.01 361.75,155.07 363.93,155.14 366.10,155.20 368.27,155.27 370.44,155.34 372.62,155.42 374.79,155.49 376.96,155.57 379.13,155.65 381.31,155.74 383.48,155.82 385.65,155.91 387.83,156.01 390.00,156.10 392.17,156.20 394.34,156.31 396.52,156.41 398.69,156.52 400.86,156.64 403.04,156.75 405.21,156.88 407.38,157.00 409.55,157.13 411.73,157.27 413.90,157.41 416.07,157.55 418.24,157.70 420.42,157.85 422.59,158.01 424.76,158.17 426.94,158.34 429.11,158.52 431.28,158.70 433.45,158.89 435.63,159.08 437.80,159.29 439.97,159.49 442.14,159.71 444.32,159.93 446.49,160.16 448.66,160.40 450.84,160.64 453.01,160.90 455.18,161.16 457.35,161.43 459.53,161.71 461.70,162.00 463.87,162.30 466.05,162.61 468.22,162.93 470.39,163.27 472.56,163.61 474.74,163.96 476.91,164.33 479.08,164.71 481.25,165.10 483.43,165.51 485.60,165.92 487.77,166.36 489.95,166.81 492.12,167.27 494.29,167.75 496.46,168.24 498.64,168.75 500.81,169.28 502.98,169.83 505.16,170.39 507.33,170.98 509.50,171.58 511.67,172.21 513.85,172.85 516.02,173.52 518.19,174.21 520.36,174.92 522.54,175.66 524.71,176.42 526.88,177.21 529.06,178.03 531.23,178.87 533.40,179.74 535.57,180.64 537.75,181.57 539.92,182.53 542.09,183.52 544.27,184.55 546.44,185.61 548.61,186.70 550.78,187.84 552.96,189.01 555.13,190.22 557.30,191.47 559.47,192.76 561.65,194.09 563.82,195.47 565.99,196.90 568.17,198.37 570.34,199.90 572.51,201.47 574.68,203.09 576.86,204.77 579.03,206.51 581.20,208.30 583.38,210.15 585.55,212.06 587.72,214.04 589.89,216.08 592.07,218.19 594.24,220.37 596.41,222.62 598.58,224.94 600.76,227.34 602.93,229.82 605.10,232.37 607.28,235.02 609.45,237.74 611.62,240.56 613.79,243.47 615.97,246.47 618.14,249.57 620.31,252.77 622.49,256.08 624.66,259.49 626.83,263.01 629.00,266.64 631.18,270.39 633.35,274.26 635.52,278.25 637.69,282.37 639.87,286.62 642.04,291.01 644.21,295.53 646.39,300.20 648.56,305.01 650.73,309.97 652.90,315.09 655.08,320.37 657.25,325.81 659.42,331.43 661.60,337.21 663.77,343.18 665.94,349.32 668.11,355.66 670.29,362.19 672.46,368.91 674.63,375.84 676.80,382.98 678.98,390.34 681.15,397.91 683.32,405.72 685.50,413.75 687.67,422.02 689.84,430.53 692.01,439.30 694.19,448.32 696.36,457.60 838.56,457.60" stroke="#0000FF"/>
<polyline points="46.70,150.61 48.57,150.61 50.43,150.61 52.30,150.62 54.16,150.62 56.03,150.62 57.89,150.63 59.76,150.63 61.62,150.64 63.49,150.64 65.35,150.64 67.22,150.65 69.08,150.65 70.95,150.65 72.81,150.66 74.68,150.66 76.54,150.67 78.41,150.67 80.27,150.68 82.14,150.68 84.00,150.69 85.87,150.69 87.73,150.70 89.60,150.70 91.46,150.71 93.33,150.71 95.19,150.72 97.06,150.73 98.92,150.73 100.79,150.74 102.65,150.75 104.52,150.75 106.38,150.76 108.25,150.77 110.11,150.77 111.98,150.78 113.84,150.79 115.71,150.80 117.57,150.80 119.44,150.81 121.31,150.82 123.17,150.83 125.04,150.84 126.90,150.85 128.77,150.86 130.63,150.87 132.50,150.88 134.36,150.89 136.23,150.90 138.09,150.91 139.96,150.92 141.82,150.93 143.69,150.94 145.55,150.96 147.42,150.97 149.28,150.98 151.15,150.99 153.01,151.01 154.88,151.02 156.74,151.04 158.61,151.05 160.47,151.07 162.34,151.08 164.20,151.10 166.07,151.11 167.93,151.13 169.80,151.15 171.66,151.16 173.53,151.18 175.39,151.20 177.26,151.22 179.12,151.24 180.99,151.26 182.85,151.28 184.72,151.30 186.58,151.32 188.45,151.35 190.31,151.37 192.18,151.39 194.04,151.42 195.91,151.44 197.78,151.47 199.64,151.49 201.51,151.52 203.37,151.55 205.24,151.58 207.10,151.61 208.97,151.64 210.83,151.67 212.70,151.70 214.56,151.73 216.43,151.77 218.29,151.80 220.16,151.84 222.02,151.87 223.89,151.91 225.75,151.95 227.62,151.99 229.48,152.03 231.35,152.07 233.21,152.11 235.08,152.16 236.94,152.20 238.81,152.25 240.67,152.29 242.54,152.34 244.40,152.39 246.27,152.44 248.13,152.50 250.00,152.55 251.86,152.61 253.73,152.66 255.59,152.72 257.46,152.78 259.32,152.85 261.19,152.91 263.05,152.97 264.92,153.04 266.78,153.11 268.65,153.18 270.52,153.25 272.38,153.33 274.25,153.41 276.11,153.48 277.98,153.57 279.84,153.65 281.71,153.73 283.57,153.82 285.44,153.91 287.30,154.01 289.17,154.10 291.03,154.20 292.90,154.30 294.76,154.40 296.63,154.51 298.49,154.62 300.36,154.73 302.22,154.84 304.09,154.96 305.95,155.08 307.82,155.21 309.68,155.33 311.55,155.46 313.41,155.60 315.28,155.74 317.14,155.88 319.01,156.02 320.87,156.17 322.74,156.33 324.60,156.49 326.47,156.65 328.33,156.81 330.20,156.99 332.06,157.16 333.93,157.34 335.79,157.53 337.66,157.72 339.52,157.91 341.39,158.11 343.25,158.32 345.12,158.53 346.99,158.75 348.85,158.97 350.72,159.20 352.58,159.44 354.45,159.68 356.31,159.93 358.18,160.18 360.04,160.45 361.91,160.72 363.77,160.99 365.64,161.28 367.50,161.57 369.37,161.87 371.23,162.18 373.10,162.49 374.96,162.82 376.83,163.15 378.69,163.49 380.56,163.84 382.42,164.20 384.29,164.57 386.15,164.96 388.02,165.35 389.88,165.75 391.75,166.16 393.61,166.58 395.48,167.02 397.34,167.46 399.21,167.92 401.07,168.39 402.94,168.88 404.80,169.37 406.67,169.88 408.53,170.41 410.40,170.94 412.26,171.49 414.13,172.06 415.99,172.64 417.86,173.24 419.73,173.85 421.59,174.48 423.46,175.13 425.32,175.79 427.19,176.48 429.05,177.18 430.92,177.90 432.78,178.63 434.65,179.39 436.51,180.17 438.38,180.97 440.24,181.79 442.11,182.63 443.97,183.50 445.84,184.38 447.70,185.29 449.57,186.23 451.43,187.19 453.30,188.18 455.16,189.19 457.03,190.23 458.89,191.29 460.76,192.39 462.62,193.51 464.49,194.67 466.35,195.85 468.22,197.07 470.08,198.32 471.95,199.60 473.81,200.91 475.68,202.26 477.54,203.65 479.41,205.07 481.27,206.53 483.14,208.03 485.00,209.57 486.87,211.14 488.73,212.76 490.60,214.42 492.46,216.13 494.33,217.88 496.20,219.68 498.06,221.52 499.93,223.41 501.79,225.35 503.66,227.34 505.52,229.38 507.39,231.48 509.25,233.63 511.12,235.84 512.98,238.10 514.85,240.42 516.71,242.81 518.58,245.25 520.44,247.76 522.31,250.33 524.17,252.97 526.04,255.68 527.90,258.45 529.77,261.30 531.63,264.22 533.50,267.21 535.36,270.28 537.23,273.43 539.09,276.66 540.96,279.97 542.82,283.37 544.69,286.85 546.55,290.42 548.42,294.08 550.28,297.83 552.15,301.67 554.01,305.61 555.88,309.65 557.74,313.80 559.61,318.04 561.47,322.39 563.34,326.85 565.20,331.42 567.07,336.10 568.94,340.89 570.80,345.81 572.67,350.84 574.53,356.00 576.40,361.29 578.26,366.70 580.13,372.24 581.99,377.92 583.86,383.74 585.72,389.69 587.59,395.79 589.45,402.03 591.32,408.42 593.18,414.97 595.05,421.67 596.91,428.53 598.78,435.54 600.64,442.73 602.51,450.08 604.37,457.60 813.26,457.60" stroke="#008000"/>
<polyline points="46.70,147.92 48.26,147.93 49.81,147.95 51.37,147.97 52.93,147.99 54.49,148.01 56.04,148.03 57.60,148.05 59.16,148.07 60.71,148.09 62.27,148.11 63.83,148.14 65.39,148.16 66.94,148.18 68.50,148.20 70.06,148.22 71.62,148.25 73.17,148.27 74.73,148.29 76.29,148.32 77.84,148.34 79.40,148.37 80.96,148.39 82.52,148.42 84.07,148.44 85.63,148.47 87.19,148.50 88.74,148.53 90.30,148.55 91.86,148.58 93.42,148.61 94.97,148.64 96.53,148.67 98.09,148.70 99.65,148.73 101.20,148.76 102.76,148.79 104.32,148.83 105.87,148.86 107.43,148.89 108.99,148.93 110.55,148.96 112.10,149.00 113.66,149.03 115.22,149.07 116.77,149.11 118.33,149.15 119.89,149.18 121.45,149.22 123.00,149.26 124.56,149.31 126.12,149.35 127.68,149.39 129.23,149.43 130.79,149.48 132.35,149.52 133.90,149.57 135.46,149.61 137.02,149.66 138.58,149.71 140.13,149.76 141.69,149.81 143.25,149.86 144.80,149.91 146.36,149.96 147.92,150.02 149.48,150.07 151.03,150.13 152.59,150.19 154.15,150.24 155.71,150.30 157.26,150.36 158.82,150.43 160.38,150.49 161.93,150.55 163.49,150.62 165.05,150.69 166.61,150.75 168.16,150.82 169.72,150.89 171.28,150.97 172.83,151.04 174.39,151.11 175.95,151.19 177.51,151.27 179.06,151.35 180.62,151.43 182.18,151.51 183.74,151.60 185.29,151.68 186.85,151.77 188.41,151.86 189.96,151.95 191.52,152.05 193.08,152.14 194.64,152.24 196.19,152.34 197.75,152.44 199.31,152.54 200.86,152.65 202.42,152.75 203.98,152.86 205.54,152.98 207.09,153.09 208.65,153.21 210.21,153.33 211.77,153.45 213.32,153.57 214.88,153.70 216.44,153.83 217.99,153.96 219.55,154.09 221.11,154.23 222.67,154.37 224.22,154.52 225.78,154.66 227.34,154.81 228.89,154.96 230.45,155.12 232.01,155.28 233.57,155.44 235.12,155.61 236.68,155.77 238.24,155.95 239.80,156.12 241.35,156.30 242.91,156.49 244.47,156.67 246.02,156.86 247.58,157.06 249.14,157.26 250.70,157.46 252.25,157.67 253.81,157.88 255.37,158.10 256.92,158.32 258.48,158.55 260.04,158.78 261.60,159.01 263.15,159.26 264.71,159.50 266.27,159.75 267.83,160.01 269.38,160.27 270.94,160.54 272.50,160.81 274.05,161.09 275.61,161.37 277.17,161.66 278.73,161.96 280.28,162.26 281.84,162.57 283.40,162.89 284.95,163.21 286.51,163.54 288.07,163.88 289.63,164.22 291.18,164.57 292.74,164.93 294.30,165.30 295.86,165.67 297.41,166.05 298.97,166.44 300.53,166.84 302.08,167.25 303.64,167.66 305.20,168.09 306.76,168.52 308.31,168.96 309.87,169.41 311.43,169.88 312.98,170.35 314.54,170.83 316.10,171.32 317.66,171.82 319.21,172.33 320.77,172.86 322.33,173.39 323.89,173.94 325.44,174.49 327.00,175.06 328.56,175.64 330.11,176.24 331.67,176.84 333.23,177.46 334.79,178.09 336.34,178.74 337.90,179.40 339.46,180.07 341.01,180.76 342.57,181.46 344.13,182.17 345.69,182.90 347.24,183.65 348.80,184.41 350.36,185.19 351.91,185.99 353.47,186.80 355.03,187.63 356.59,188.47 358.14,189.34 359.70,190.22 361.26,191.12 362.82,192.04 364.37,192.98 365.93,193.93 367.49,194.91 369.04,195.91 370.60,196.93 372.16,197.97 373.72,199.03 375.27,200.12 376.83,201.23 378.39,202.36 379.94,203.51 381.50,204.69 383.06,205.89 384.62,207.12 386.17,208.37 387.73,209.65 389.29,210.95 390.85,212.28 392.40,213.64 393.96,215.03 395.52,216.44 397.07,217.89 398.63,219.36 400.19,220.87 401.75,222.40 403.30,223.97 404.86,225.57 406.42,227.20 407.97,228.86 409.53,230.56 411.09,232.29 412.65,234.06 414.20,235.86 415.76,237.70 417.32,239.58 418.88,241.50 420.43,243.45 421.99,245.44 423.55,247.47 425.10,249.55 426.66,251.66 428.22,253.82 429.78,256.02 431.33,258.26 432.89,260.55 434.45,262.88 436.00,265.26 437.56,267.69 439.12,270.16 440.68,272.68 442.23,275.25 443.79,277.87 445.35,280.55 446.91,283.27 448.46,286.05 450.02,288.88 451.58,291.76 453.13,294.71 454.69,297.70 456.25,300.76 457.81,303.87 459.36,307.04 460.92,310.28 462.48,313.57 464.03,316.93 465.59,320.35 467.15,323.83 468.71,327.38 470.26,331.00 471.82,334.68 473.38,338.43 474.94,342.25 476.49,346.14 478.05,350.11 479.61,354.14 481.16,358.25 482.72,362.43 484.28,366.69 485.84,371.03 487.39,375.44 488.95,379.94 490.51,384.51 492.06,389.16 493.62,393.90 495.18,398.72 496.74,403.63 498.29,408.62 499.85,413.70 501.41,418.87 502.97,424.12 504.52,429.47 506.08,434.91 507.64,440.44 509.19,446.06 510.75,451.78 512.31,457.60 770.33,457.60" stroke="#00BFBF"/>
</g>
<line x1="46.3" y1="7" x2="1006" y2="7" stroke="#000" stroke-width="2"/>
<g stroke="#000" stroke-width="3" fill="#000">
<line x1="821.0" y1="240.3" x2="912.0" y2="240.3"/>
<polygon points="806.0,240.3 825.6,230.60000000000002 825.6,250.0" stroke="none"/>
<line x1="769.5" y1="288.5" x2="912.0" y2="288.5"/>
<polygon points="754.5,288.5 774.1,278.8 774.1,298.2" stroke="none"/>
<line x1="701.6" y1="333.9" x2="904.3" y2="333.9"/>
<polygon points="686.6,333.9 706.2,324.2 706.2,343.59999999999997" stroke="none"/>
<line x1="619.4" y1="380.5" x2="897.6" y2="380.5"/>
<polygon points="604.4,380.5 624.0,370.8 624.0,390.2" stroke="none"/>
<line x1="538.4" y1="427.6" x2="887.0" y2="427.6"/>
<polygon points="523.4,427.6 543.0,417.90000000000003 543.0,437.3" stroke="none"/>
</g>
<g class="serif">
<text x="934.0 950 958.5 969.8" y="252.0">0 °C</text>
<text x="917.3 932.6 950 958.0 970.1" y="296.7">25 °C</text>
<text x="916.8 932.0 950 957.5 969.2" y="341.3">50 °C</text>
<text x="913.7 930.2 948 954.7 966.4" y="390.3">75 °C</text>
<text x="896.6 913.2 928.9 946 954.8 966.4" y="435.5">100 °C</text>
</g>
<g class="sans">
<text x="46.60" y="488.1" text-anchor="middle">0</text>
<text x="237.65" y="488.1" text-anchor="middle">5</text>
<text x="430.35" y="488.1" text-anchor="middle">10</text>
<text x="621.35" y="488.1" text-anchor="middle">15</text>
<text x="812.20" y="488.1" text-anchor="middle">20</text>
<text x="1003.75" y="488.1" text-anchor="middle">25</text>
<text x="525" y="520" text-anchor="middle" transform="translate(525 0) scale(0.92 1) translate(-525 0)" style="font-size:31.5px">Vpv(V)</text>
<text transform="translate(33.4,313.0) rotate(-90)" style="font-size:30.5px">Ppv(W)/<tspan dy="-3.6">Ipv(A)</tspan></text>
</g>
</svg>
</body></html>
